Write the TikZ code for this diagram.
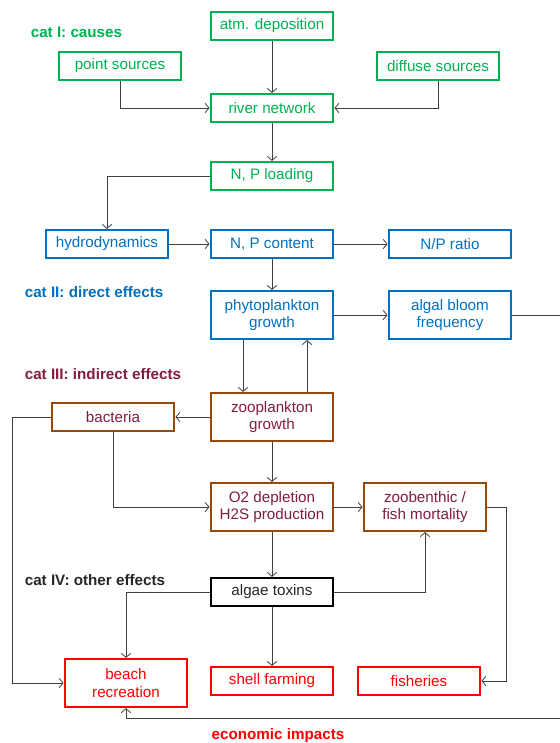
\documentclass[tikz,border=0pt]{standalone}
\usepackage{fontspec}
\setmainfont{Liberation Sans}
\usetikzlibrary{arrows.meta,calc}
\definecolor{catgreen}{HTML}{00B050}
\definecolor{catblue}{HTML}{0070C0}
\definecolor{catbrown}{HTML}{984807}
\definecolor{catwine}{HTML}{821C40}
\definecolor{catgray}{HTML}{262626}
\definecolor{linegray}{HTML}{404040}
\begin{document}
\begin{tikzpicture}[x=0.75pt,y=-0.75pt,>={Straight Barb[length=3pt,width=7pt]},
                    font=\fontsize{11.4}{13}\selectfont,
                    color=linegray,line width=0.6pt,
                    box/.style={rectangle,draw,line width=1.6pt,minimum width=92pt,minimum height=21pt,align=center,inner sep=1pt},
                    tall/.style={box,minimum height=36pt},
                    green node/.style={box,draw=catgreen,text=catgreen},
                    blue node/.style={box,draw=catblue,text=catblue},
                    brown node/.style={box,draw=catbrown,text=catwine},
                    black node/.style={box,draw=black,text=catgray},
                    red node/.style={box,draw=red,text=red},
                    cat label/.style={anchor=west,font=\fontsize{11.4}{13}\selectfont\bfseries}]

        \useasboundingbox (0,0) rectangle (560,743);

        % Category labels
        \node[cat label,text=catgreen] (catI) at (26,32) {cat I: causes};
        \node[cat label,text=catblue] (catII) at (20,292) {cat II: direct effects};
        \node[cat label,text=catwine] (catIII) at (20,374) {cat III: indirect effects};
        \node[cat label,text=catgray] (catIV) at (20,580) {cat IV: other effects};
        \node[font=\fontsize{11.4}{13}\selectfont\bfseries,text=red] (econ) at (278,736) {economic impacts};

        % Nodes
        % cat I
        \node[green node] (atm) at (272,26) {atm. deposition};
        \node[green node] (point) at (120,66) {point sources};
        \node[green node] (diffuse) at (438,66) {diffuse sources};
        \node[green node] (river) at (272,108) {river network};
        \node[green node] (load) at (272,176) {N, P loading};

        % cat II
        \node[blue node] (hydro) at (107,244) {hydrodynamics};
        \node[blue node] (content) at (272,244) {N, P content};
        \node[blue node] (ratio) at (450,244) {N/P ratio};
        \node[blue node,tall] (phyto) at (272,315) {phytoplankton\\growth};
        \node[blue node,tall] (bloom) at (450,315) {algal bloom\\frequency};

        % cat III
        \node[brown node,tall] (zoo) at (272,417) {zooplankton\\growth};
        \node[brown node] (bact) at (113,417) {bacteria};
        \node[brown node,tall] (oxy) at (272,507) {O2 depletion\\H2S production};
        \node[brown node,tall] (zoob) at (425,507) {zoobenthic /\\fish mortality};

        % cat IV
        \node[black node] (tox) at (272,592) {algae toxins};

        % economic impacts
        \node[red node,tall] (beach) at (126,683) {beach\\recreation};
        \node[red node] (shell) at (272,681) {shell farming};
        \node[red node] (fish) at (419,681) {fisheries};

        % Helper corners
        \coordinate (right) at (566,718);
        \coordinate (left) at (12,683);
        \coordinate (mort) at (506,507);

        % Edges
        \draw[->] (atm) -- (river);
        \draw[->] (point.south) |- (river.west);
        \draw[->] (diffuse.south) |- (river.east);
        \draw[->] (river) -- (load);
        \draw[->] (load.west) -| (hydro.north);

        \draw[->] (hydro) -- (content);
        \draw[->] (content) -- (ratio);
        \draw[->] (content) -- (phyto);
        \draw[->] (phyto) -- (bloom);
        \draw[->] (bloom.east) -| (right) -| (beach.south);

        \draw[->] ($(phyto.south)+(-29,0)$) -- ($(zoo.north)+(-29,0)$);
        \draw[->] ($(zoo.north)+(35,0)$) -- ($(phyto.south)+(35,0)$);
        \draw[->] (zoo) -- (bact);
        \draw[->] (bact.west) -| (left) -- (beach.west);
        \draw[->] (bact.south) |- (oxy.west);
        \draw[->] (zoo) -- (oxy);
        \draw[->] (oxy) -- (zoob);
        \draw[->] (zoob.east) -- (mort) |- (fish.east);

        \draw[->] (oxy) -- (tox);
        \draw[->] (tox.east) -| (zoob.south);
        \draw[->] (tox.west) -| (beach.north);
        \draw[->] (tox) -- (shell);
\end{tikzpicture}
\end{document}
